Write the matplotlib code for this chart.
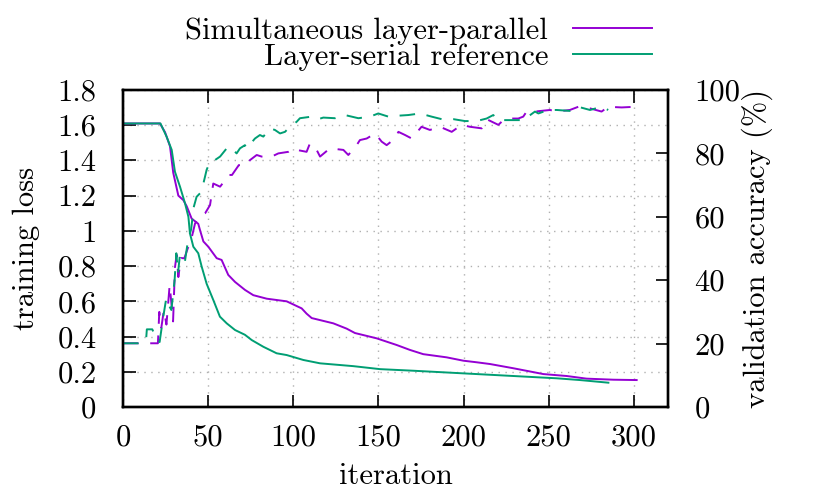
import matplotlib
matplotlib.use("Agg")
import matplotlib.pyplot as plt
from matplotlib.ticker import FormatStrFormatter, MultipleLocator

plt.rcParams['font.family'] = ['cmr10', 'DejaVu Serif']
plt.rcParams['font.size'] = 22
plt.rcParams['axes.unicode_minus'] = False

purple = '#9400D3'
green = '#009E73'

# training loss (left axis)
loss_par_it = [0, 21.7, 24.7, 27.6, 29.5, 32.5, 35.4, 37.4, 40.3, 44.2, 45.2, 47.2, 50.1, 55, 57.9,
               61.8, 65.8, 71.6, 76.5, 84.4, 96.1, 104.9, 107.8, 110.8, 123.5, 131.3, 136.2, 148.9,
               160.7, 168.5, 176.3, 190, 199.8, 207.6, 215.5, 229.2, 246.8, 260.5, 272.2, 287.9, 301.6]
loss_par = [1.61, 1.61, 1.56, 1.48, 1.33, 1.20, 1.175, 1.14, 1.07, 1.04, 1.005, 0.94, 0.91, 0.845, 0.835,
            0.75, 0.71, 0.665, 0.635, 0.615, 0.60, 0.56, 0.53, 0.505, 0.475, 0.445, 0.42, 0.39,
            0.352, 0.324, 0.30, 0.282, 0.263, 0.254, 0.244, 0.22, 0.187, 0.176, 0.161, 0.155, 0.153]

loss_ser_it = [0, 22, 25.6, 28.6, 30.5, 33.5, 36.4, 38.4, 39.3, 41.3, 44.2, 46.2, 49.1, 53, 56.9, 60.9,
               65.8, 71.6, 75.6, 82.4, 90.2, 96.1, 105.9, 115.7, 135.2, 150.9, 170.4, 199.8, 229.2,
               254.6, 268.3, 285]
loss_ser = [1.61, 1.61, 1.535, 1.46, 1.336, 1.25, 1.157, 1.08, 0.986, 0.91, 0.873, 0.797, 0.70, 0.608,
            0.513, 0.475, 0.437, 0.41, 0.38, 0.342, 0.305, 0.295, 0.267, 0.248, 0.232, 0.215, 0.206,
            0.191, 0.176, 0.163, 0.153, 0.138]

# validation accuracy (right axis, %)
acc_par_it = [0, 20.5, 21.3, 22.5, 24, 25.5, 27.4, 29.4, 30.5, 31.5, 32.5, 34, 36, 38, 40, 42.3, 45.2,
              48.2, 51.1, 53, 55, 57, 60, 62, 64, 68, 72.6, 74.6, 78.5, 81.4, 87.3, 91.2, 97.1, 100,
              102, 107.8, 109.8, 113.7, 115.7, 121.5, 129.4, 132.3, 137.2, 139.1, 143.1, 148, 151.9,
              154.8, 159.7, 161.7, 165.6, 169.5, 175.3, 180.2, 186.1, 193, 198.8, 203.7, 210.6, 213.5,
              220.4, 223.3, 227.2, 232.1, 235, 237, 241.9, 250.7, 254.6, 262.4, 267.3, 274.2, 281,
              284.9, 292.8, 300.6]
acc_par = [20.1, 20.1, 30, 25, 30.6, 26, 38.5, 27, 44, 48, 41, 47, 46.9, 50, 52.7, 57.9, 60, 61.1, 63.7,
           70.5, 70, 69.5, 71.6, 73.2, 73.2, 76.3, 76.3, 77.9, 79.5, 79, 79, 80, 80.5, 81.6, 81.1, 80.5,
           83.2, 81.1, 79, 81.6, 81.1, 79.5, 82.6, 84.2, 84.7, 86.3, 83.7, 82.6, 84.7, 86.8, 85.8, 84.7,
           88.4, 87.4, 88.4, 86.8, 89, 88.4, 87.9, 90.8, 89, 90.5, 91, 91, 91.6, 93.2, 93.2, 93.7, 93.2,
           93.7, 94.7, 94.2, 93.2, 94.7, 94.5, 94.7]

acc_ser_it = [0, 8.8, 13.5, 14, 17.2, 20, 21.5, 23.5, 25.4, 27, 28.4, 30.3, 31.3, 32.3, 33.3, 35, 36.2,
              38.2, 40, 41.5, 43.2, 45.2, 47.2, 49.1, 51.1, 54, 57, 60.9, 62.8, 64.8, 66.7, 68.7, 71.6,
              72.6, 77.5, 80.4, 82.4, 86.3, 89.2, 92.2, 95.1, 97.1, 102, 103.9, 110.8, 114.7, 117.6,
              124.5, 130.3, 138.2, 145, 149.9, 155.8, 161.7, 167.5, 174.4, 181.2, 187.1, 194, 200.8,
              207.6, 213.5, 217.4, 220.4, 228.2, 235, 241.9, 243.9, 249.7, 254.6, 262.4, 267.3, 274.2,
              281, 284.9]
acc_ser = [20.1, 20.1, 20.8, 24.5, 24.5, 21, 20.5, 28, 34.3, 32, 30.6, 40, 48.5, 42.2, 47.4, 47, 45.3,
           52.7, 56, 63, 66.3, 67.4, 70.5, 74.8, 77.4, 77.9, 79, 81.6, 82.1, 81.1, 80, 81.6, 82.6, 81.6,
           84.7, 85.8, 85.3, 87.9, 87.4, 86.3, 86.8, 87.9, 90, 91.1, 91.6, 90.8, 91.3, 91.1, 92.1, 91.1,
           91.6, 92.6, 91.6, 91.9, 92.1, 92.6, 91.6, 90.8, 90.8, 90.2, 90.2, 91, 92.1, 90.5, 90.5, 90.5,
           93.2, 92.6, 93.7, 93.7, 93.4, 94.7, 93.7, 94.7, 93.7]

labels = ['Simultaneous layer-parallel', 'Layer-serial reference']

fig = plt.figure(figsize=(8.31, 4.97), dpi=100)
ax = fig.add_axes([123 / 831, 1 - 407 / 497, 545 / 831, 317 / 497])
ax2 = ax.twinx()

lw = 1.4
dash = (0, (8, 6))
l1, = ax.plot(loss_par_it, loss_par, color=purple, lw=lw)
l2, = ax.plot(loss_ser_it, loss_ser, color=green, lw=lw)
ax2.plot(acc_par_it, acc_par, color=purple, lw=lw, linestyle=dash)
ax2.plot(acc_ser_it, acc_ser, color=green, lw=lw, linestyle=dash)

ax.set_xlim(0, 320)
ax.set_ylim(0, 1.8)
ax2.set_ylim(0, 100)
ax.xaxis.set_major_locator(MultipleLocator(50))
ax.yaxis.set_major_locator(MultipleLocator(0.2))
ax2.yaxis.set_major_locator(MultipleLocator(20))
ax.yaxis.set_major_formatter(FormatStrFormatter('%g'))
ax2.yaxis.set_major_formatter(FormatStrFormatter('%g'))

ax.grid(True, color='#b0b0b0', linestyle=(0, (1, 4)), lw=1.0)
ax.tick_params(axis='x', direction='in', top=True, length=9, width=1.2, pad=12)
ax.tick_params(axis='y', direction='in', length=9, width=1.2, pad=19)
ax2.tick_params(axis='y', direction='in', length=9, width=1.2, pad=19)
for a in (ax, ax2):
    for s in a.spines.values():
        s.set_linewidth(1.7)

ax.set_xlabel('iteration')
ax.set_ylabel('training loss')
ax2.set_ylabel('validation accuracy (%)')
ax.xaxis.set_label_coords(0.5, -0.175)
ax.yaxis.set_label_coords(-0.152, 0.5)
ax2.yaxis.set_label_coords(1.135, 0.5)

fig.legend([l1, l2], labels, loc='upper right', bbox_to_anchor=(652 / 831, 0.965),
           markerfirst=False, frameon=False, handlelength=2.6, handletextpad=0.8,
           labelspacing=-0.05, borderpad=0, borderaxespad=0)

fig.savefig('out.png', dpi=100)
